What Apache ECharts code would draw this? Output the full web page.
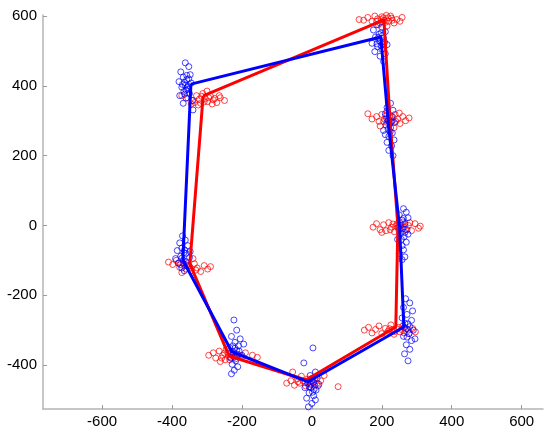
<!DOCTYPE html>
<html>
<head>
<meta charset="utf-8">
<script src="https://cdn.jsdelivr.net/npm/echarts@6/dist/echarts.min.js"></script>
<style>html,body{margin:0;padding:0;background:#fff}#c{width:550px;height:436px}</style>
</head>
<body>
<div id="c"></div>
<script>
var xTicks = [-600, -400, -200, 0, 200, 400, 600];
var yTicks = [-400, -200, 0, 200, 400, 600];

var redPoints = [
  // top-left
  [-372,372],[-355,365],[-340,358],[-330,372],[-318,350],[-305,363],[-298,355],[-290,370],[-282,360],[-272,352],[-262,366],[-250,358],[-312,378],[-325,345],[-345,348],[-285,348],[-300,385],[-265,372],
  [-322,362],[-308,354],[-295,366],[-315,370],[-278,364],[-335,352],
  // top-right
  [135,590],[148,588],[160,596],[172,585],[180,600],[188,592],[195,580],[200,598],[207,588],[213,602],[220,585],[228,594],[235,580],[243,590],[252,585],[258,596],[190,575],[215,572],[225,600],[205,595],
  [198,590],[210,582],[218,595],[202,584],[230,588],[185,585],
  // right upper
  [160,320],[172,305],[185,312],[192,298],[200,318],[208,305],[215,295],[222,312],[230,300],[238,318],[245,305],[252,292],[260,312],[268,300],[278,308],[235,280],[215,328],[250,322],[195,285],
  [218,304],[226,296],[232,310],[212,315],[240,298],[205,298],
  // right middle
  [175,-5],[185,5],[195,-12],[205,2],[212,-15],[220,8],[228,-5],[236,-18],[244,5],[252,-8],[260,10],[268,-12],[276,0],[285,-15],[295,5],[305,-8],[310,-2],[240,-2],[200,-20],
  [232,4],[248,-12],[256,2],[264,-4],[224,-12],[280,8],
  // right lower
  [150,-300],[162,-292],[172,-308],[182,-298],[192,-288],[200,-310],[210,-295],[218,-303],[226,-285],[235,-312],[243,-296],[252,-305],[260,-288],[268,-300],[278,-310],[288,-295],[296,-305],[230,-298],
  [238,-304],[248,-292],[222,-296],[256,-298],[214,-310],[264,-308],
  // bottom
  [-72,-452],[-60,-445],[-50,-458],[-42,-440],[-35,-452],[-25,-445],[-18,-460],[-10,-448],[-2,-455],[8,-440],[15,-452],[25,-445],[35,-430],[-55,-420],[75,-462],[-30,-432],[0,-438],
  [-20,-450],[-12,-440],[-6,-462],[5,-448],[-40,-448],[18,-460],
  // bottom-left
  [-295,-372],[-282,-365],[-275,-380],[-265,-360],[-255,-372],[-248,-385],[-240,-368],[-232,-378],[-225,-362],[-218,-382],[-210,-370],[-200,-376],[-190,-365],[-170,-372],[-156,-378],[-262,-390],[-245,-355],
  [-238,-376],[-228,-370],[-250,-366],[-220,-375],[-258,-380],[-235,-385],
  // left
  [-410,-105],[-398,-112],[-388,-100],[-378,-120],[-368,-108],[-360,-125],[-352,-115],[-344,-130],[-336,-110],[-328,-122],[-318,-132],[-308,-115],[-298,-125],[-290,-118],[-372,-135],[-340,-95],
  [-356,-110],[-348,-120],[-364,-116],[-332,-128],[-380,-108]
];

var bluePoints = [
  // top-left
  [-362,466],[-352,455],[-375,440],[-348,432],[-368,425],[-358,418],[-380,412],[-345,408],[-362,402],[-372,396],[-355,390],[-366,384],[-350,378],[-378,372],[-360,365],[-342,358],[-368,350],[-356,395],[-364,410],[-352,420],[-340,331],
  [-360,388],[-370,404],[-354,400],[-364,376],[-358,430],
  // top-right
  [185,575],[200,568],[176,560],[210,555],[192,548],[182,540],[205,536],[196,528],[172,522],[215,518],[188,512],[200,505],[180,498],[210,492],[195,485],[205,470],[190,538],[198,552],
  [202,545],[192,530],[208,525],[186,520],[198,515],
  // right upper
  [225,350],[215,338],[232,330],[210,320],[228,312],[218,300],[236,295],[212,288],[225,280],[205,272],[230,265],[220,255],[235,245],[215,238],[228,228],[220,215],[232,200],[210,260],
  [222,292],[218,276],[228,298],[214,306],[224,268],
  // right middle
  [262,48],[270,38],[250,30],[275,22],[258,15],[266,5],[248,-5],[272,-12],[255,-22],[264,-32],[245,-40],[270,-48],[258,-58],[262,-70],[250,-80],[266,-90],[258,-98],[275,-25],
  [260,-10],[254,0],[266,-20],[256,-40],[262,20],
  // right lower
  [268,-210],[280,-222],[262,-235],[288,-245],[272,-255],[258,-265],[285,-272],[275,-282],[265,-292],[290,-300],[278,-310],[262,-318],[285,-330],[270,-342],[280,-355],[265,-368],[275,-388],[295,-325],
  [270,-296],[280,-290],[266,-280],[276,-300],[272,-320],
  // bottom
  [3,-351],[-23,-394],[10,-420],[-5,-430],[15,-438],[0,-445],[-12,-452],[8,-458],[-2,-465],[12,-472],[-8,-480],[5,-488],[-15,-495],[10,-500],[0,-510],[-10,-520],[20,-455],[-20,-465],
  [4,-450],[-4,-455],[6,-470],[-8,-462],[2,-478],
  // bottom-left
  [-223,-271],[-215,-300],[-230,-318],[-205,-325],[-220,-335],[-210,-345],[-235,-350],[-215,-358],[-225,-365],[-200,-372],[-232,-380],[-218,-388],[-228,-398],[-212,-405],[-222,-415],[-230,-425],[-195,-340],
  [-220,-352],[-226,-345],[-214,-370],[-222,-378],[-208,-360],
  // left
  [-370,-30],[-362,-42],[-378,-50],[-355,-58],[-372,-65],[-385,-72],[-360,-80],[-375,-88],[-350,-92],[-368,-100],[-382,-108],[-358,-115],[-372,-122],[-365,-130],[-390,-95],[-348,-75],
  [-366,-78],[-372,-94],[-360,-104],[-376,-112],[-364,-70]
];

var redPolygon = [[-311,371],[206,589],[223,308],[246,-1],[240,-291],[-17,-443],[-237,-374],[-349,-110],[-311,371]];
var bluePolygon = [[-346,405],[197,540],[220,279],[251,-7],[263,-291],[-11,-448],[-229,-362],[-369,-99],[-346,405]];

var chart = echarts.init(document.getElementById('c'));
var axisCommon = {
  type: 'value',
  axisLine: { show: true, onZero: false, lineStyle: { color: '#b4b4b4', width: 1.5 } },
  axisTick: { show: true, inside: true, length: 4, lineStyle: { color: '#9a9a9a', width: 1 } },
  splitLine: { show: false },
  axisLabel: { color: '#000', fontSize: 15, fontFamily: 'Liberation Sans, Arial, sans-serif' }
};
chart.setOption({
  animation: false,
  backgroundColor: '#fff',
  grid: { left: 43, right: 7, top: 15, bottom: 27, containLabel: false },
  xAxis: Object.assign({}, axisCommon, {
    min: -769, max: 661,
    axisTick: Object.assign({}, axisCommon.axisTick, { customValues: xTicks }),
    axisLabel: Object.assign({}, axisCommon.axisLabel, { customValues: xTicks, margin: 5 })
  }),
  yAxis: Object.assign({}, axisCommon, {
    min: -526, max: 603,
    axisTick: Object.assign({}, axisCommon.axisTick, { customValues: yTicks }),
    axisLabel: Object.assign({}, axisCommon.axisLabel, { customValues: yTicks, margin: 6 })
  }),
  series: [
    { type: 'scatter', data: redPoints, symbol: 'circle', symbolSize: 6, clip: false,
      itemStyle: { color: 'rgba(0,0,0,0)', borderColor: '#ff0000', borderWidth: 0.9 }, emphasis: { disabled: true } },
    { type: 'scatter', data: bluePoints, symbol: 'circle', symbolSize: 6, clip: false,
      itemStyle: { color: 'rgba(0,0,0,0)', borderColor: '#0000ff', borderWidth: 0.9 }, emphasis: { disabled: true } },
    { type: 'line', data: redPolygon, showSymbol: false, symbol: 'none',
      lineStyle: { color: '#ff0000', width: 3 }, emphasis: { disabled: true } },
    { type: 'line', data: bluePolygon, showSymbol: false, symbol: 'none',
      lineStyle: { color: '#0000ff', width: 3 }, emphasis: { disabled: true } }
  ]
});
</script>
</body>
</html>
